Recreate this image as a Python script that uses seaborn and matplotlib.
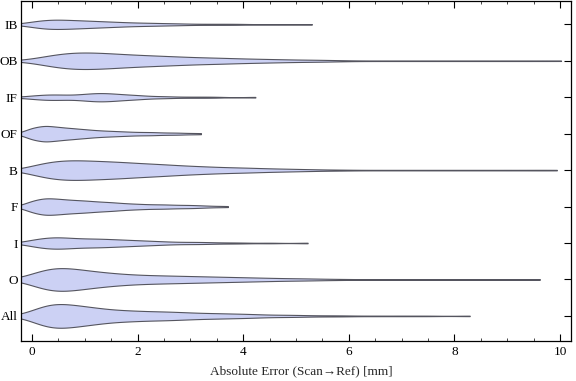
import numpy as np
import pandas as pd
import matplotlib
matplotlib.use("Agg")
import matplotlib.pyplot as plt
import seaborn as sns
from matplotlib.ticker import MultipleLocator

# ---------------- data ----------------
categories = ["IB", "OB", "IF", "OF", "B", "F", "I", "O", "All"]

# histogram-style bin centres of the error values [mm]
bin_centres = [-0.25, 0.0, 0.25, 0.5, 0.75, 1.0, 1.25, 1.5, 1.75, 2.0,
               2.25, 2.5, 2.75, 3.0, 3.25, 3.5, 3.75, 4.0, 4.25, 4.5,
               4.75, 5.0, 5.25, 5.5, 5.75, 6.0]

# observation counts per bin (relative), one list per category
counts_IB = [1, 5, 9, 9, 8, 7, 6, 5, 4, 3, 3, 2, 2, 1, 1, 1, 1, 1]
counts_OB = [1, 3, 9, 13, 16, 16, 15, 14, 12, 11, 10, 9, 8, 7, 6, 6, 5, 4,
             4, 3, 3, 2, 2, 2, 1, 1]
counts_IF = [1, 3, 5, 5, 4, 6, 8, 7, 5, 4, 2, 2, 1, 1, 1, 1]
counts_OF = [1, 11, 15, 12, 10, 8, 6, 5, 4, 3, 3, 2, 2, 1]
counts_B = [1, 8, 15, 18, 19, 18, 17, 16, 15, 13, 12, 11, 9, 8, 7, 6, 5, 5,
            4, 3, 3, 2, 2, 1, 1, 1]
counts_F = [1, 11, 16, 14, 12, 11, 9, 8, 6, 5, 4, 4, 3, 3, 2, 1]
counts_I = [1, 6, 10, 11, 9, 8, 8, 7, 6, 5, 4, 3, 2, 2, 2, 1, 1, 1]
counts_O = [1, 9, 20, 22, 19, 16, 13, 11, 9, 8, 7, 7, 6, 6, 5, 5, 4, 4,
            3, 3, 2, 2, 2, 1, 1, 1]
counts_All = [1, 9, 21, 23, 20, 17, 14, 11, 10, 9, 8, 8, 7, 6, 5, 5, 4, 4,
              3, 2, 2, 2, 1, 1, 1, 1]

# sparse far-tail observations [mm]
tail_IB = [4.6, 5.3]
tail_OB = [6.5, 7.0, 7.5, 8.0, 8.5, 9.0, 9.5, 10.02]
tail_IF = [4.23]
tail_OF = [3.2]
tail_B = [6.5, 7.0, 7.5, 8.0, 8.5, 9.0, 9.5, 9.94]
tail_F = [3.71]
tail_I = [4.5, 5.22]
tail_O = [6.5, 7.0, 7.5, 8.0, 8.5, 9.0, 9.62]
tail_All = [6.5, 7.0, 7.5, 8.29]

x_label = "Absolute Error (Scan\u2192Ref) [mm]"
x_ticks = [0, 2, 4, 6, 8, 10]

counts_by_cat = [counts_IB, counts_OB, counts_IF, counts_OF, counts_B,
                 counts_F, counts_I, counts_O, counts_All]
tails_by_cat = [tail_IB, tail_OB, tail_IF, tail_OF, tail_B, tail_F,
                tail_I, tail_O, tail_All]

frames = []
for cat, cnt, tail in zip(categories, counts_by_cat, tails_by_cat):
    vals = np.concatenate([np.repeat(bin_centres[:len(cnt)], cnt), tail])
    frames.append(pd.DataFrame({"category": cat, "error": vals}))
df = pd.concat(frames, ignore_index=True)

# ---------------- styling ----------------
sns.set_style("white")
plt.rcParams["font.family"] = ["Liberation Serif", "DejaVu Serif"]

fill_col = "#ccd1f4"
edge_col = "#55555f"
full_width = 0.65

fig = plt.figure(figsize=(5.76, 3.81), dpi=100)
ax = fig.add_axes([0.0356, 0.1058, 0.9549, 0.8916])

peak_all = max(max(c) for c in counts_by_cat)
for cat, cnt in zip(categories, counts_by_cat):
    sub = df[df["category"] == cat]
    sns.violinplot(data=sub, x="error", y="category", order=categories,
                   orient="h", width=full_width * max(cnt) / peak_all,
                   density_norm="width", cut=0, bw_adjust=0.45,
                   gridsize=400, inner=None, color=fill_col,
                   linecolor=edge_col, linewidth=0.8, saturation=1,
                   ax=ax)

ax.set_xlim(-0.218, 10.2)
ax.set_ylim(8.68, -0.64)
ax.xaxis.set_major_locator(MultipleLocator(2))
ax.xaxis.set_minor_locator(MultipleLocator(0.5))
ax.set_xticks(x_ticks)
ax.set_xticklabels([str(t) for t in x_ticks])
ax.set_ylabel("")
ax.set_xlabel(x_label, fontsize=9.5)
ax.xaxis.set_label_coords(0.511, -0.072)

for s in ax.spines.values():
    s.set_visible(True)
    s.set_color("black")
    s.set_linewidth(0.9)

ax.tick_params(axis="x", which="major", direction="in", length=5,
               width=0.8, top=True, bottom=True, labelsize=9.5, pad=4,
               colors="black")
ax.tick_params(axis="x", which="minor", direction="in", length=2.5,
               width=0.6, top=True, bottom=True)
ax.tick_params(axis="y", which="major", direction="in", length=5,
               width=0.8, left=True, right=True, labelsize=9.5, pad=2,
               colors="black")

fig.savefig("out.png", dpi=100)
